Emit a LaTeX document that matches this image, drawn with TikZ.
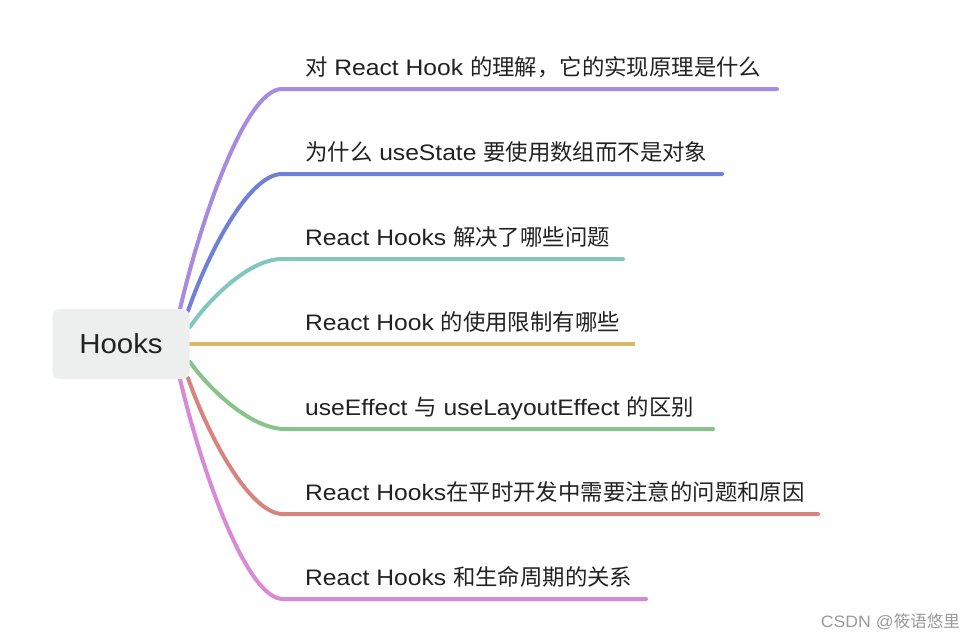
\documentclass[tikz,border=0pt]{standalone}
\usepackage{fontspec}
\setmainfont[FakeStretch=1.07]{Liberation Sans}
\newfontfamily\lblfont[FakeStretch=1.1]{Liberation Sans}
\newfontfamily\cjk{Noto Sans CJK SC}
\definecolor{cPurple}{HTML}{A68BDE}
\definecolor{cBlue}{HTML}{6E80D8}
\definecolor{cTeal}{HTML}{82C6C0}
\definecolor{cGold}{HTML}{D9B864}
\definecolor{cGreen}{HTML}{88C38B}
\definecolor{cRed}{HTML}{D8847E}
\definecolor{cPink}{HTML}{D98AD6}
\definecolor{rootfill}{HTML}{EDEFEE}
\definecolor{txt}{HTML}{222222}
\definecolor{wm}{HTML}{9A9A9A}
\begin{document}
\begin{tikzpicture}[x=1pt,y=-1pt,
  branch/.style={line width=4pt,line cap=round},
  rootbox/.style={fill=rootfill,rounded corners=7pt,minimum width=137pt,minimum height=70pt,inner sep=0pt,text=txt,font=\fontsize{27.5}{32}\selectfont},
  lbl/.style={anchor=base west,inner sep=0pt,text=txt,font=\fontsize{22.4}{26}\lblfont}]
\fill[white] (0,0) rectangle (976,640);
\useasboundingbox (0,0) rectangle (976,640);
% start points on the root box
\coordinate (s1) at (180,309);
\coordinate (s2) at (188,311);
\coordinate (s3) at (190,327);
\coordinate (s4) at (188,344);
\coordinate (s5) at (190,362);
\coordinate (s6) at (188,378);
\coordinate (s7) at (180,379);
% curve ends
\coordinate (a1) at (282,89);
\coordinate (a2) at (282,174);
\coordinate (a3) at (282,259);
\coordinate (a5) at (285,429);
\coordinate (a6) at (283,514);
\coordinate (a7) at (283,599);
% line ends
\coordinate (b1) at (777,89);
\coordinate (b2) at (722,174);
\coordinate (b3) at (623,259);
\coordinate (b4) at (635,344);
\coordinate (b5) at (713,429);
\coordinate (b6) at (818,514);
\coordinate (b7) at (646,599);
\draw[branch,cPurple] (s1) .. controls (200.4,221) and (245.3,89) .. (a1) -- (b1);
\draw[branch,cBlue] (s2) .. controls (206.8,256.2) and (248.2,174) .. (a2) -- (b2);
\draw[branch,cTeal] (s3) .. controls (208.4,299.8) and (248.9,259) .. (a3) -- (b3);
\draw[branch,cGold,line cap=butt] (s4) -- (b4);
\draw[branch,cGreen] (s5) .. controls (209,388.8) and (250.8,429) .. (a5) -- (b5);
\draw[branch,cRed] (s6) .. controls (207,432.4) and (248.8,514) .. (a6) -- (b6);
\draw[branch,cPink] (s7) .. controls (200.6,467) and (245.9,599) .. (a7) -- (b7);
\node[rootbox] (root) at (121,344) {Hooks};
\node[lbl] (l1) at (305,75) {{\cjk 对} React Hook {\cjk 的理解，它的实现原理是什么}};
\node[lbl] (l2) at (305,160) {{\cjk 为什么} useState {\cjk 要使用数组而不是对象}};
\node[lbl] (l3) at (305,245) {React Hooks {\cjk 解决了哪些问题}};
\node[lbl] (l4) at (305,330) {React Hook {\cjk 的使用限制有哪些}};
\node[lbl] (l5) at (305,415) {useEffect {\cjk 与} useLayoutEffect {\cjk 的区别}};
\node[lbl] (l6) at (305,500) {React Hooks{\cjk 在平时开发中需要注意的问题和原因}};
\node[lbl] (l7) at (305,585) {React Hooks {\cjk 和生命周期的关系}};
\node[anchor=base east,inner sep=0pt,text=wm,font=\fontsize{16.5}{18}\selectfont] (wm) at (960,627) {CSDN @{\cjk 筱语悠里}};
\end{tikzpicture}
\end{document}
